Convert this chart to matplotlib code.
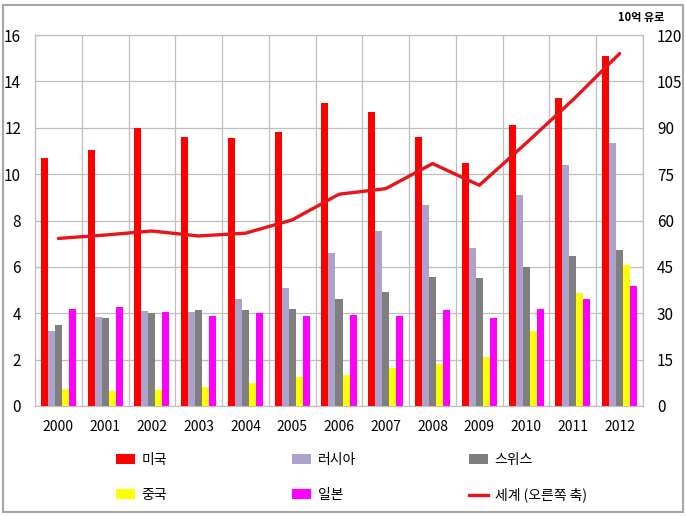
import matplotlib
matplotlib.use('Agg')
import matplotlib.pyplot as plt
import matplotlib.patches as mpatches
from matplotlib.lines import Line2D
import numpy as np

plt.rcParams['font.family'] = ['Noto Sans CJK KR', 'DejaVu Sans']

years = ['2000', '2001', '2002', '2003', '2004', '2005', '2006',
         '2007', '2008', '2009', '2010', '2011', '2012']
usa = [10.7, 11.05, 12.0, 11.6, 11.55, 11.8, 13.05, 12.7, 11.6, 10.5, 12.1, 13.3, 15.1]
russia = [3.25, 3.85, 4.1, 4.05, 4.6, 5.1, 6.6, 7.55, 8.65, 6.8, 9.1, 10.4, 11.35]
swiss = [3.5, 3.8, 4.0, 4.15, 4.15, 4.2, 4.6, 4.9, 5.55, 5.5, 6.0, 6.45, 6.72]
china = [0.75, 0.65, 0.7, 0.8, 1.0, 1.25, 1.32, 1.63, 1.8, 2.13, 3.22, 4.86, 6.07]
japan = [4.2, 4.25, 4.05, 3.9, 4.0, 3.9, 3.93, 3.88, 4.12, 3.8, 4.2, 4.63, 5.18]
world = [54.2, 55.3, 56.6, 55.0, 55.9, 60.2, 68.5, 70.3, 78.4, 71.4, 85.0, 99.0, 114.0]

names = ['미국', '러시아', '스위스', '중국', '일본']
colors = ['#FF0000', '#ADA2CC', '#7F7F7F', '#FFFF00', '#FF00FF']
series = [usa, russia, swiss, china, japan]

fig = plt.figure(figsize=(6.86, 5.17), dpi=100)
ax = fig.add_axes([35/686, 1-406/517, (643-35)/686, (406-35)/517])

x = np.arange(len(years))
w = 0.15
for i, (vals, c) in enumerate(zip(series, colors)):
    ax.bar(x + (i - 2) * w, vals, width=w, color=c, zorder=3)

ax.set_xlim(-0.5, len(years) - 0.5)
ax.set_ylim(0, 16)
ax.set_yticks(range(0, 17, 2))
ax.set_xticks(x)
ax.set_xticklabels(years)
ax.set_xticks(np.arange(-0.5, len(years), 1), minor=True)
ax.grid(True, axis='y', color='#BFBFBF', lw=0.9, zorder=0)
ax.grid(True, axis='x', which='minor', color='#BFBFBF', lw=0.9, zorder=0)
ax.tick_params(axis='x', which='both', length=0, labelsize=10, pad=10)
ax.tick_params(axis='y', length=0, labelsize=11, pad=10)
for s in ax.spines.values():
    s.set_color('#BFBFBF')
    s.set_linewidth(0.9)

ax2 = ax.twinx()
ax2.set_ylim(0, 120)
ax2.set_yticks(range(0, 121, 15))
ax2.tick_params(axis='y', length=0, labelsize=11, pad=10)
for s in ax2.spines.values():
    s.set_visible(False)
ax2.plot(x, world, color='#E8141C', lw=2.4, solid_joinstyle='round',
         solid_capstyle='round', zorder=5)

fig.text(641/686, 1-17/517, '10억 유로', fontsize=8, fontweight='bold',
         ha='center', va='center')

# legend, one per column
def patch(c):
    return mpatches.Patch(facecolor=c, edgecolor='none')

cols = [
    ([patch(colors[0]), patch(colors[3])], ['미국', '중국'], 116),
    ([patch(colors[1]), patch(colors[4])], ['러시아', '일본'], 292),
    ([patch(colors[2]), Line2D([], [], color='#E8141C', lw=2.4)], ['스위스', '세계 (오른쪽 축)'], 469),
]
for h, l, px in cols:
    fig.legend(h, l, loc='upper left', bbox_to_anchor=(px/686, 1-453/517),
               frameon=False, fontsize=10, handlelength=1.35, handleheight=0.75,
               handletextpad=0.5, labelspacing=1.5, borderpad=0, borderaxespad=0)

fig.add_artist(mpatches.Rectangle((3/686, 1-512/517), 680/686, 507/517,
                                  transform=fig.transFigure, fill=False,
                                  edgecolor='#A6A6A6', lw=1.5))

fig.savefig('out.png', dpi=100)
